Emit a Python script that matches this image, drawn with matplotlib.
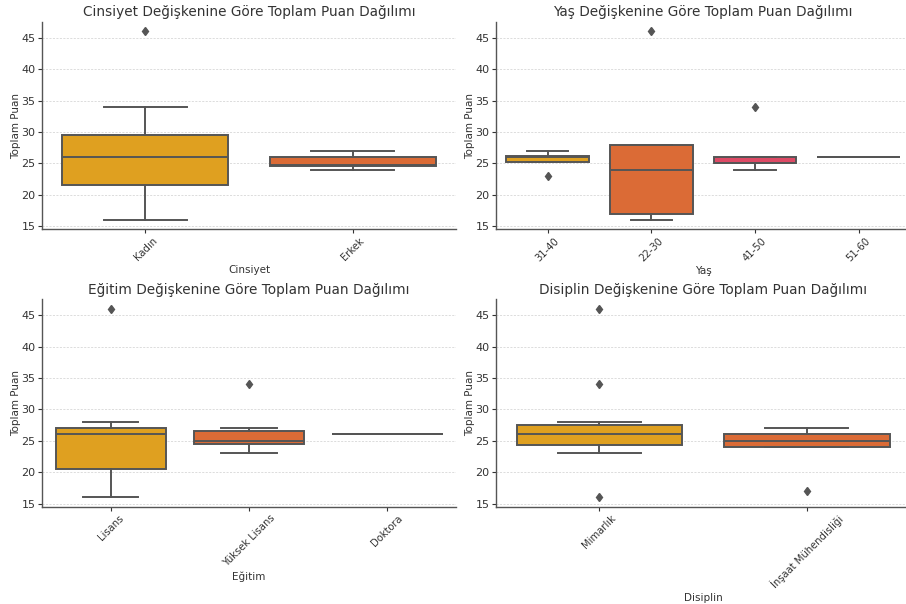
import matplotlib
matplotlib.use("Agg")
import matplotlib.pyplot as plt

# ---- Data (box statistics) ----
cinsiyet_labels = ["Kadın", "Erkek"]
cinsiyet_q1 = [21.5, 24.5]
cinsiyet_med = [26, 24.8]
cinsiyet_q3 = [29.5, 26]
cinsiyet_lo = [16, 24]
cinsiyet_hi = [34, 27]
cinsiyet_fliers = [[46], []]

yas_labels = ["31-40", "22-30", "41-50", "51-60"]
yas_q1 = [25.2, 17, 25, 26]
yas_med = [26, 24, 25, 26]
yas_q3 = [26.25, 28, 26, 26]
yas_lo = [25.2, 16, 24, 26]
yas_hi = [27, 28, 26, 26]
yas_fliers = [[23], [46], [34], []]

egitim_labels = ["Lisans", "Yüksek Lisans", "Doktora"]
egitim_q1 = [20.5, 24.5, 26]
egitim_med = [26, 25, 26]
egitim_q3 = [27, 26.5, 26]
egitim_lo = [16, 23, 26]
egitim_hi = [28, 27, 26]
egitim_fliers = [[46], [34], []]

disiplin_labels = ["Mimarlık", "İnşaat Mühendisliği"]
disiplin_q1 = [24.25, 24]
disiplin_med = [26, 25]
disiplin_q3 = [27.5, 26]
disiplin_lo = [23, 24]
disiplin_hi = [28, 27]
disiplin_fliers = [[46, 34, 16], [17]]

titles = ["Cinsiyet Değişkenine Göre Toplam Puan Dağılımı",
          "Yaş Değişkenine Göre Toplam Puan Dağılımı",
          "Eğitim Değişkenine Göre Toplam Puan Dağılımı",
          "Disiplin Değişkenine Göre Toplam Puan Dağılımı"]
xlabels = ["Cinsiyet", "Yaş", "Eğitim", "Disiplin"]
ylabel = "Toplam Puan"

palette = ["#DFA020", "#DB6B36", "#DD4A65", "#9E4F8A"]
text_color = "#333333"
edge = "#555555"

plt.rcParams['font.family'] = ['DejaVu Sans']

fig, axes = plt.subplots(2, 2, figsize=(9.06, 6.04), dpi=100)
fig.subplots_adjust(left=0.046, right=1.005, top=0.9636, bottom=0.161,
                    wspace=0.095, hspace=0.338)

groups = [
    (cinsiyet_labels, cinsiyet_q1, cinsiyet_med, cinsiyet_q3, cinsiyet_lo, cinsiyet_hi, cinsiyet_fliers),
    (yas_labels, yas_q1, yas_med, yas_q3, yas_lo, yas_hi, yas_fliers),
    (egitim_labels, egitim_q1, egitim_med, egitim_q3, egitim_lo, egitim_hi, egitim_fliers),
    (disiplin_labels, disiplin_q1, disiplin_med, disiplin_q3, disiplin_lo, disiplin_hi, disiplin_fliers),
]

for ax, grp, title, xl in zip(axes.flat, groups, titles, xlabels):
    labels, q1, med, q3, lo, hi, fl = grp
    stats = []
    for i in range(len(labels)):
        stats.append(dict(label=labels[i], q1=q1[i], med=med[i], q3=q3[i],
                          whislo=lo[i], whishi=hi[i], fliers=fl[i]))
    bp = ax.bxp(stats, positions=range(len(labels)), widths=0.8,
                patch_artist=True,
                boxprops=dict(edgecolor=edge, linewidth=1.4),
                medianprops=dict(color=edge, linewidth=1.4),
                whiskerprops=dict(color=edge, linewidth=1.4),
                capprops=dict(color=edge, linewidth=1.4),
                flierprops=dict(marker='d', markerfacecolor=edge,
                                markeredgecolor=edge, markersize=4.5))
    for i, patch in enumerate(bp['boxes']):
        patch.set_facecolor(palette[i])
    ax.set_xlim(-0.5, len(labels) - 0.5)
    ax.set_ylim(14.5, 47.5)
    ax.set_yticks([15, 20, 25, 30, 35, 40, 45])
    ax.set_title(title, fontsize=9.8, color=text_color, pad=4)
    ax.set_xlabel(xl, fontsize=7.5, color=text_color, labelpad=2)
    ax.set_ylabel(ylabel, fontsize=7.5, color=text_color, labelpad=0)
    ax.tick_params(axis='y', labelsize=8, colors=text_color,
                   length=3, width=0.8, pad=1.5)
    ax.tick_params(axis='x', labelsize=7.2, colors=text_color,
                   length=3, width=0.8, pad=1.5, labelrotation=45)
    for lbl in ax.get_xticklabels():
        lbl.set_ha('center')
    ax.yaxis.grid(True, linestyle=(0, (3, 2)), linewidth=0.5, color='#cfcfcf')
    ax.set_axisbelow(True)
    for s in ['top', 'right']:
        ax.spines[s].set_visible(False)
    for s in ['left', 'bottom']:
        ax.spines[s].set_color('#555555')
        ax.spines[s].set_linewidth(1.0)

fig.savefig("out.png", dpi=100, facecolor="white")
